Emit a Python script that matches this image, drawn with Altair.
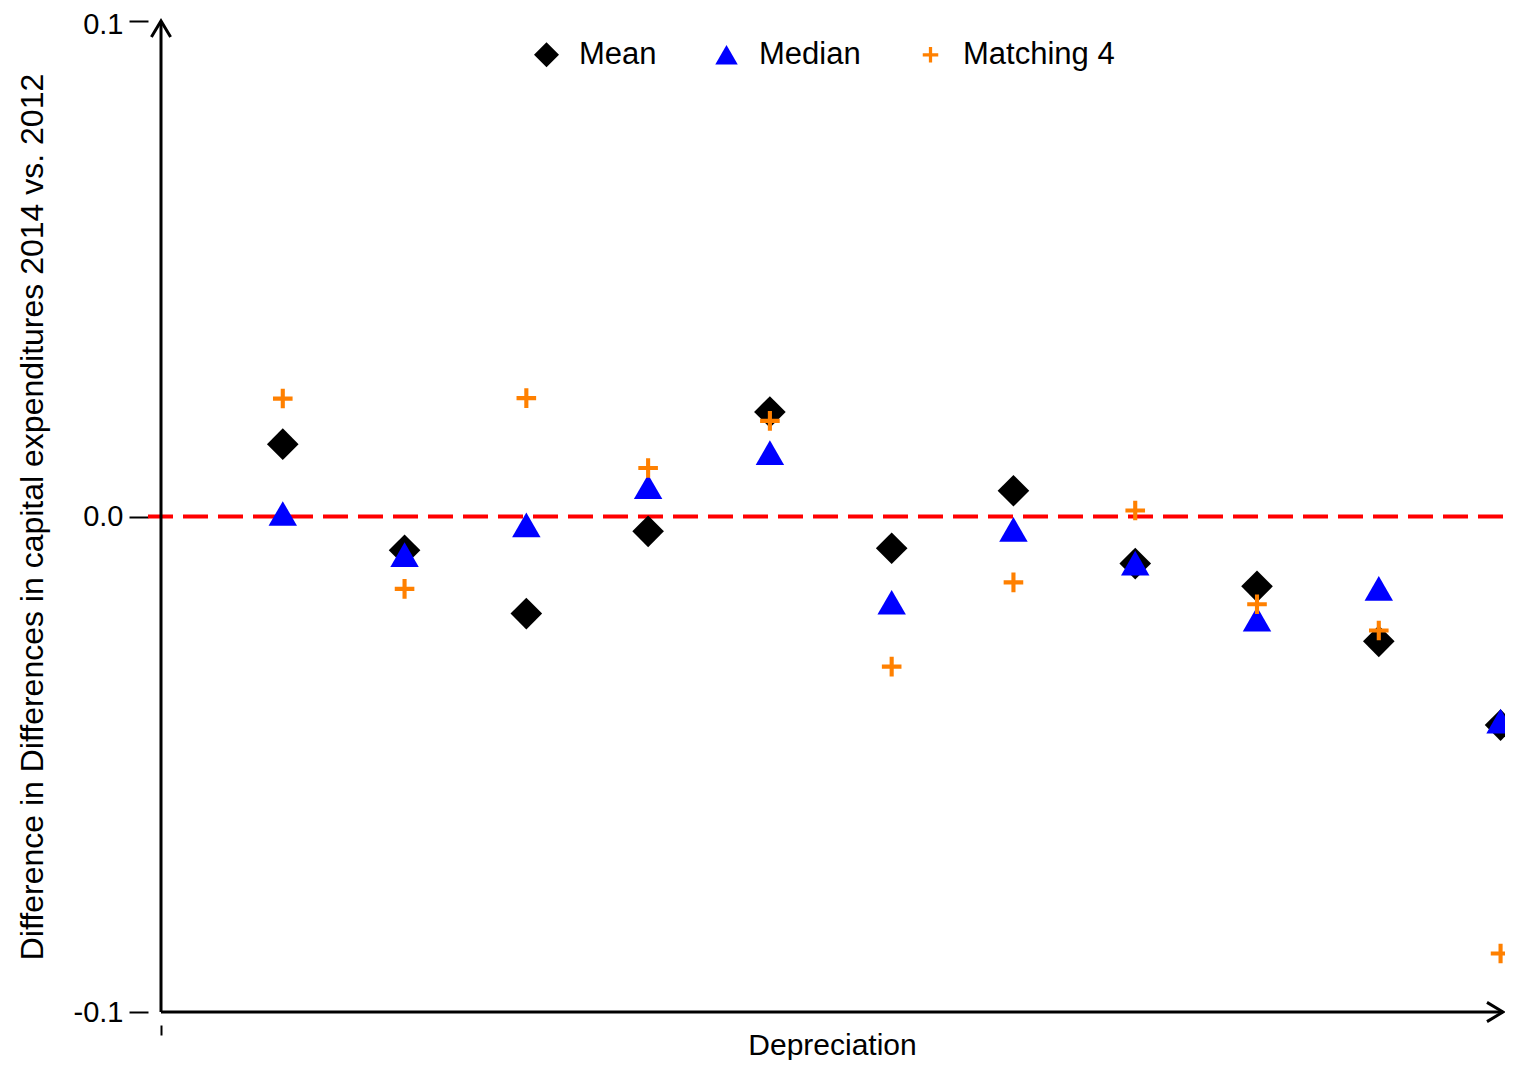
import altair as alt
import pandas as pd

# ---- data ----
x_pos = [1, 2, 3, 4, 5, 6, 7, 8, 9, 10, 11]
series_names = ["Mean", "Median", "Matching 4"]
mean_vals = [0.0146, -0.0068, -0.0196, -0.0030, 0.0211, -0.0064, 0.0052, -0.0095, -0.0141, -0.0252, -0.0421]
median_vals = [0.0006, -0.0077, -0.0017, 0.0060, 0.0129, -0.0173, -0.0026, -0.0094, -0.0207, -0.0145, -0.0413]
matching_vals = [0.0238, -0.0146, 0.0239, 0.0098, 0.0193, -0.0303, -0.0133, 0.0012, -0.0177, -0.0230, -0.0882]
y_ticks = [-0.1, 0.0, 0.1]
x_ticks = [0]
x_max = 11.02
y_min, y_max = -0.1, 0.1

series_colors = ["#000000", "#0000FF", "#FF8000"]
series_shapes = [
    "M0,-1 L1,0 L0,1 L-1,0 Z",
    "M0,-0.78 L0.9,0.78 L-0.9,0.78 Z",
    "M-0.62,-0.13 L-0.13,-0.13 L-0.13,-0.62 L0.13,-0.62 L0.13,-0.13 L0.62,-0.13 "
    "L0.62,0.13 L0.13,0.13 L0.13,0.62 L-0.13,0.62 L-0.13,0.13 L-0.62,0.13 Z",
]

rows = []
for name, vals in zip(series_names, [mean_vals, median_vals, matching_vals]):
    for xi, v in zip(x_pos, vals):
        rows.append({"x": xi, "y": v, "series": name})
df = pd.DataFrame(rows)

FONT = "Liberation Sans"
x_scale = alt.Scale(domain=[0, x_max], nice=False, zero=False)
y_scale = alt.Scale(domain=[y_min, y_max], nice=False, zero=False)

x_axis = alt.Axis(values=x_ticks, labels=False, domain=False, grid=False,
                  offset=13, tickSize=10, tickWidth=2, tickColor="black",
                  title="Depreciation", titleFont=FONT, titleFontSize=30,
                  titleFontWeight="normal", titleColor="black",
                  titleBaseline="alphabetic", titlePadding=18)
y_axis = alt.Axis(values=y_ticks, domain=False, grid=False,
                  offset=13, tickSize=19, tickWidth=2, tickColor="black",
                  labelFont=FONT, labelFontSize=29, labelColor="black", labelPadding=6,
                  labelOffset={"condition": {"test": "datum.value > 0.05", "value": 3}, "value": 0},
                  labelExpr="(datum.value < 0 ? '-' : '') + format(abs(datum.value), '.1f')",
                  title="Difference in Differences in capital expenditures 2014 vs. 2012",
                  titleFont=FONT, titleFontSize=32, titleFontWeight="normal",
                  titleColor="black", titlePadding=24)

legend = alt.Legend(title=None, orient="none", direction="horizontal", columns=3,
                    legendX=370, legendY=18, padding=0,
                    labelFont=FONT, labelFontSize=31, labelColor="black",
                    labelOffset=17, symbolSize=625, symbolStrokeWidth=0,
                    columnPadding=54)

points = alt.Chart(df).mark_point(filled=True, size=1000, opacity=1).encode(
    x=alt.X("x:Q", scale=x_scale, axis=x_axis),
    y=alt.Y("y:Q", scale=y_scale, axis=y_axis),
    color=alt.Color("series:N", scale=alt.Scale(domain=series_names, range=series_colors), legend=legend),
    shape=alt.Shape("series:N", scale=alt.Scale(domain=series_names, range=series_shapes), legend=legend),
)

zero_df = pd.DataFrame({"y": [0.0]})
zero_line = alt.Chart(zero_df).mark_rule(color="#FF0000", strokeWidth=4, strokeDash=[25, 10]).encode(
    y=alt.Y("y:Q", scale=y_scale),
    x=alt.value(-13),
    x2=alt.value(1344),
)

yaxis_df = pd.DataFrame({"x": [0.0], "y": [y_min], "y2": [y_max]})
y_line = alt.Chart(yaxis_df).mark_rule(color="black", strokeWidth=3).encode(
    x=alt.X("x:Q", scale=x_scale), y=alt.Y("y:Q", scale=y_scale), y2="y2:Q")
xaxis_df = pd.DataFrame({"x": [0.0], "x2": [x_max], "y": [y_min]})
x_line = alt.Chart(xaxis_df).mark_rule(color="black", strokeWidth=3).encode(
    x=alt.X("x:Q", scale=x_scale), x2="x2:Q", y=alt.Y("y:Q", scale=y_scale))

up_df = pd.DataFrame({"x": [0.0], "y": [y_max]})
up_arrow = alt.Chart(up_df).mark_point(shape="M-0.6,1 L0,0 L0.6,1", size=1024, filled=False,
                                       stroke="black", strokeWidth=3, opacity=1).encode(
    x=alt.X("x:Q", scale=x_scale), y=alt.Y("y:Q", scale=y_scale))
right_df = pd.DataFrame({"x": [x_max], "y": [y_min]})
right_arrow = alt.Chart(right_df).mark_point(shape="M-1,-0.6 L0,0 L-1,0.6", size=1024, filled=False,
                                             stroke="black", strokeWidth=3, opacity=1).encode(
    x=alt.X("x:Q", scale=x_scale), y=alt.Y("y:Q", scale=y_scale))

chart = alt.layer(zero_line, y_line, x_line, up_arrow, right_arrow, points).properties(
    width=1342, height=991,
    autosize=alt.AutoSizeParams(type="none"),
    padding={"left": 153, "top": 13, "right": 2, "bottom": 48},
).configure(background="white").configure_view(stroke=None)

chart.save("out.html", embed_options={"renderer": "svg", "actions": False})
